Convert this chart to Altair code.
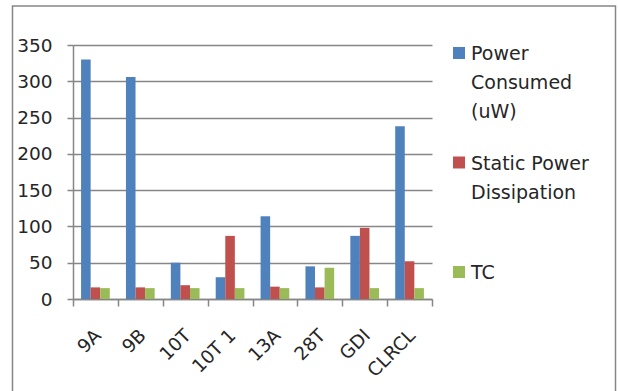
import altair as alt
import pandas as pd

# Circuit names along the x axis
categories = ["9A", "9B", "10T", "10T 1", "13A", "28T", "GDI", "CLRCL"]

# Series names and their values per circuit
series = ["Power Consumed (uW)", "Static Power Dissipation", "TC"]
power_consumed = [330, 306, 50, 30, 114, 45, 87, 238]
static_power = [16, 16, 19, 87, 17, 16, 98, 52]
tc = [15, 15, 15, 15, 15, 43, 15, 15]

# Legend text, wrapped the way it is shown
legend_lines = ["Power\nConsumed\n(uW)", "Static Power\nDissipation", "TC"]

colors = ["#4F81BD", "#C0504D", "#9BBB59"]
GRAY = "#868686"
TEXT = "#262626"
FONT = "DejaVu Sans"

rows = []
for s, vals in zip(series, [power_consumed, static_power, tc]):
    for c, v in zip(categories, vals):
        rows.append({"category": c, "series": s, "value": v})
df = pd.DataFrame(rows)

legend_df = pd.DataFrame({"series": series, "label": legend_lines})

color_scale = alt.Scale(domain=series, range=colors)

bars = alt.Chart(df).mark_bar().encode(
    x=alt.X(
        "category:N",
        sort=categories,
        scale=alt.Scale(paddingInner=0, paddingOuter=0),
        axis=alt.Axis(
            title=None,
            labelAngle=-45,
            labelAlign="right",
            labelBaseline="middle",
            tickBand="extent",
            tickSize=7,
            labelPadding=26,
            labelOffset=2,
            domainColor=GRAY,
            tickColor=GRAY,
            domainWidth=1.5,
            tickWidth=1.5,
        ),
    ),
    xOffset=alt.XOffset(
        "series:N", sort=series, scale=alt.Scale(paddingInner=0, paddingOuter=0.844)
    ),
    y=alt.Y(
        "value:Q",
        scale=alt.Scale(domain=[0, 350], nice=False),
        axis=alt.Axis(
            title=None,
            values=list(range(0, 351, 50)),
            tickSize=6,
            labelPadding=15,
            grid=True,
            gridColor=GRAY,
            gridWidth=1.5,
            domainColor=GRAY,
            tickColor=GRAY,
            domainWidth=1.5,
            tickWidth=1.5,
        ),
    ),
    color=alt.Color("series:N", scale=color_scale, legend=None),
)

legend_y = alt.Y(
    "series:N",
    sort=series,
    scale=alt.Scale(type="point", domain=series, range=[8, 227], padding=0),
    axis=None,
)

legend_symbols = alt.Chart(legend_df).mark_square(size=144, opacity=1).encode(
    x=alt.value(386),
    y=legend_y,
    color=alt.Color("series:N", scale=color_scale, legend=None),
)

legend_text = alt.Chart(legend_df).mark_text(
    align="left",
    baseline="alphabetic",
    dy=7,
    lineBreak="\n",
    lineHeight=29,
    font=FONT,
    fontSize=19,
    color=TEXT,
).encode(
    x=alt.value(398),
    y=legend_y,
    text="label:N",
)

frame = alt.Chart(alt.Data(values=[{"frame": 1}])).mark_rect(
    fillOpacity=0, stroke=GRAY, strokeWidth=1.5
).encode(
    x=alt.value(-60.5),
    x2=alt.value(542.5),
    y=alt.value(-39),
    y2=alt.value(360),
)

chart = (
    alt.layer(bars, legend_symbols, legend_text, frame)
    .resolve_scale(y="independent")
    .properties(
        width=359,
        height=254,
        autosize=alt.AutoSizeParams(type="none"),
        padding={"left": 73, "top": 45, "right": 186, "bottom": 92},
        background="white",
    )
    .configure_view(stroke=None)
    .configure_axis(
        labelFont=FONT,
        labelFontSize=18.5,
        labelColor=TEXT,
    )
)

chart.save("out.html", embed_options={"renderer": "svg", "actions": False})
